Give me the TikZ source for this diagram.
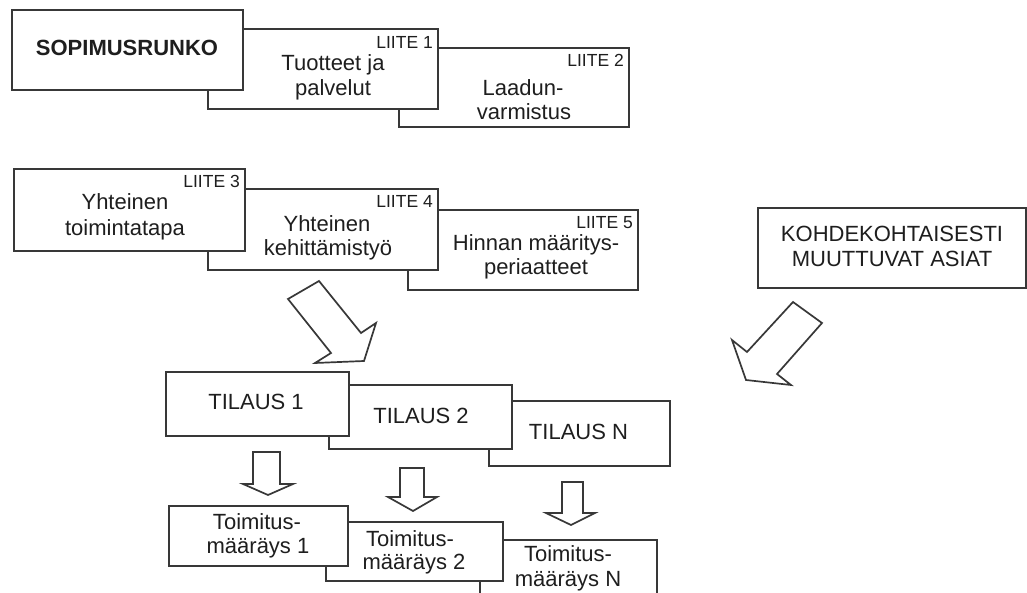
\documentclass[tikz,border=0pt]{standalone}
\usepackage{fontspec}
\setmainfont{Liberation Sans}
\definecolor{linec}{HTML}{383838}
\definecolor{textc}{HTML}{1E1E1E}
\begin{document}
\begin{tikzpicture}[x=1pt,y=-1pt,
  box/.style={draw=linec, line width=1.6pt, fill=white, inner sep=0pt, anchor=north west, rectangle},
  txt/.style={font=\fontsize{22}{26}\selectfont, text=textc, inner sep=0pt, anchor=base},
  lab/.style={font=\fontsize{17.5}{20}\selectfont, text=textc, inner sep=0pt, anchor=base east},
  blockarrow/.style={draw=linec, line width=1.7pt, fill=white, line join=miter}]
\useasboundingbox[fill=white] (0,0) rectangle (1027,593);
\clip (0,0) rectangle (1027,593);

% Row 1
\node[box, minimum width=230pt, minimum height=79pt] (l2) at (398,47) {};
\node[box, minimum width=230pt, minimum height=80pt] (l1) at (207,28) {};
\node[box, minimum width=231pt, minimum height=80pt] (s0) at (11,9) {};
\node[txt, font=\fontsize{22}{26}\selectfont\bfseries] (s0t) at (127,55.5) {SOPIMUSRUNKO};
\node[lab] (l1lab) at (433,49) {LIITE 1};
\node[txt] (l1a) at (333,70.5) {Tuotteet ja};
\node[txt] (l1b) at (333,96) {palvelut};
\node[lab] (l2lab) at (624,67) {LIITE 2};
\node[txt] (l2a) at (523,95.5) {Laadun-};
\node[txt] (l2b) at (524,119.5) {varmistus};

% Row 2
\node[box, minimum width=230pt, minimum height=80pt] (l5) at (407,209) {};
\node[box, minimum width=230pt, minimum height=81pt] (l4) at (207,188) {};
\node[box, minimum width=231pt, minimum height=82pt] (l3) at (13,168) {};
\node[lab] (l3lab) at (240,188) {LIITE 3};
\node[txt] (l3a) at (125,209.5) {Yhteinen};
\node[txt] (l3b) at (125,235.5) {toimintatapa};
\node[lab] (l4lab) at (433,208) {LIITE 4};
\node[txt] (l4a) at (327,231.5) {Yhteinen};
\node[txt] (l4b) at (328,255.5) {kehittämistyö};
\node[lab] (l5lab) at (633,229) {LIITE 5};
\node[txt] (l5a) at (536,250.5) {Hinnan määritys-};
\node[txt] (l5b) at (536,274.5) {periaatteet};

% Kohdekohtaisesti
\node[box, minimum width=268pt, minimum height=80pt] (kh) at (757,207) {};
\node[txt] (kha) at (892,242) {KOHDEKOHTAISESTI};
\node[txt] (khb) at (892,266.5) {MUUTTUVAT ASIAT};

% Big arrows
\draw[blockarrow] (288,299) -- (319,281) -- (361,333) -- (376,323) -- (364,361) -- (315,363) -- (331,353) -- cycle;
\draw[blockarrow] (793,302) -- (822,323) -- (777,374) -- (791,385) -- (746,380) -- (732,340) -- (747,352) -- cycle;

% Tilaus row
\node[box, minimum width=181pt, minimum height=65pt] (tn) at (488,400) {};
\node[box, minimum width=183pt, minimum height=64pt] (t2) at (328,384) {};
\node[box, minimum width=183pt, minimum height=64pt] (t1) at (165,371) {};
\node[txt] (t1t) at (256,409) {TILAUS 1};
\node[txt] (t2t) at (421,423) {TILAUS 2};
\node[txt] (tnt) at (578.5,439) {TILAUS N};

% Small arrows
\draw[blockarrow] (253,452) -- (280,452) -- (280,484) -- (293,484) -- (268,495) -- (243,484) -- (253,484) -- cycle;
\draw[blockarrow] (400,468) -- (424,468) -- (424,497) -- (437,497) -- (413,511) -- (388,497) -- (400,497) -- cycle;
\draw[blockarrow] (562,482) -- (583,482) -- (583,513) -- (595,513) -- (571,525) -- (546,513) -- (562,513) -- cycle;

% Toimitusmaarays row
\node[box, minimum width=177pt, minimum height=60pt] (mn) at (479,539) {};
\node[box, minimum width=177pt, minimum height=59pt] (m2) at (325,521) {};
\node[box, minimum width=179pt, minimum height=60pt] (m1) at (168,505) {};
\node[txt] (m1a) at (257,529) {Toimitus-};
\node[txt] (m1b) at (258,553.5) {määräys 1};
\node[txt] (m2a) at (410,546.5) {Toimitus-};
\node[txt] (m2b) at (414,569.5) {määräys 2};
\node[txt] (mna) at (568,561) {Toimitus-};
\node[txt] (mnb) at (568,586) {määräys N};
\end{tikzpicture}
\end{document}
